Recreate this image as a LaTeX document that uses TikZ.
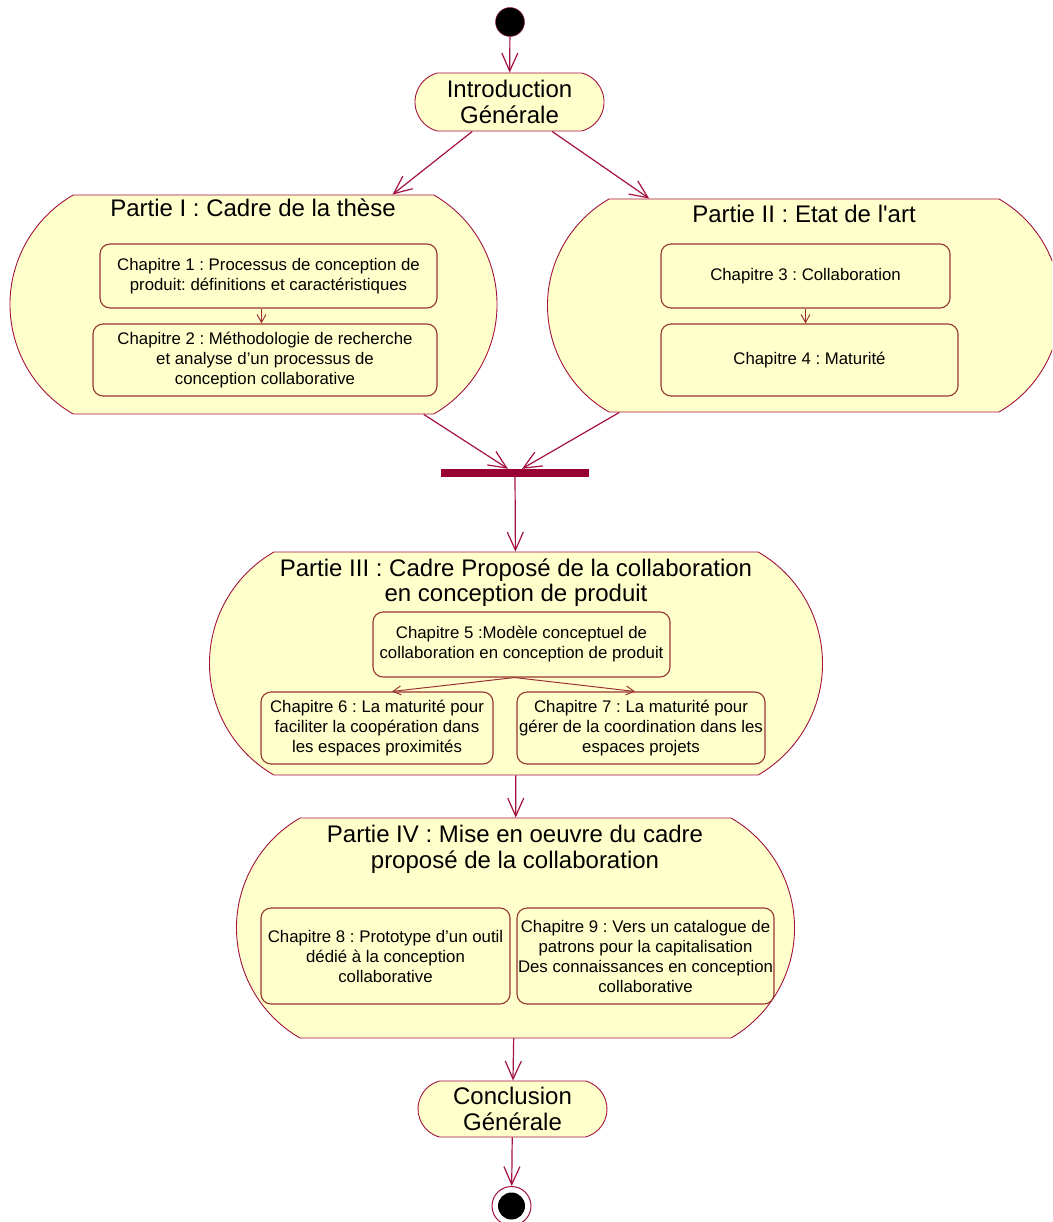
\documentclass[tikz,border=0pt]{standalone}
\usepackage{fontspec}
\setmainfont{Liberation Sans}
\newfontfamily\arialfont{Liberation Sans}
\usetikzlibrary{arrows.meta,shapes.misc}
\definecolor{roseyellow}{HTML}{FFFFCC}
\definecolor{roseline}{HTML}{A3123F}
\definecolor{boxline}{HTML}{993333}
\definecolor{barred}{HTML}{990033}
\frenchspacing

\begin{document}
\begin{tikzpicture}[x=1pt,y=-1pt,
  part/.style={rounded rectangle, rounded rectangle arc length=120, draw=roseline, fill=roseyellow, line width=0.9pt, inner sep=0pt},
  activity/.style={rounded rectangle, rounded rectangle arc length=150, draw=roseline, fill=roseyellow, line width=0.9pt, inner sep=0pt, align=center, font=\arialfont\fontsize{24}{26}\selectfont},
  chap/.style={rectangle, rounded corners=10pt, draw=boxline, fill=roseyellow, line width=1.1pt, inner sep=0pt, align=center, font=\arialfont\fontsize{16.8}{20}\selectfont},
  title/.style={align=center, inner sep=0pt, font=\arialfont\fontsize{24}{26}\selectfont},
  flow/.style={draw=roseline, line width=1.2pt, -{Straight Barb[length=18pt,width=16pt]}},
  subflow/.style={draw=boxline, line width=1pt, -{Straight Barb[length=8pt,width=9pt]}}]
\useasboundingbox (0,0) rectangle (1052,1222);
\clip (0,0) rectangle (1052,1222);

%\draw[help lines] (0,0) grid[step=100] (1052,1222);

% initial and final states
\node[circle, fill=black, draw=roseline, minimum size=29pt, inner sep=0pt] (start) at(510,22) {};
\node[circle, fill=white, draw=roseline, line width=1pt, minimum size=39pt, inner sep=0pt] (stop) at(511.5,1206) {};
\node[circle, fill=black, minimum size=27pt, inner sep=0pt] (stopdot) at(stop) {};

\node[activity, minimum width=189pt, minimum height=58pt] (intro) at(509.5,102) {Introduction\\Générale};
\node[activity, minimum width=189pt, minimum height=56pt] (concl) at(512.5,1109) {Conclusion\\Générale};

% the four parts
\node[part, minimum width=487pt, minimum height=219pt] (p1) at(253.5,304.5) {};
\node[part, minimum width=513pt, minimum height=213pt] (p2) at(804,305.5) {};
\node[part, minimum width=613pt, minimum height=223pt] (p3) at(516,663.5) {};
\node[part, minimum width=558pt, minimum height=220pt] (p4) at(515.5,928) {};

\node[title, anchor=base] (t1) at(253,217) {Partie I : Cadre de la thèse};
\node[title, anchor=base] (t2) at(804,223) {Partie II : Etat de l'art};
\node[title, font=\arialfont\fontsize{24}{25}\selectfont] (t3) at(516,583) {Partie III : Cadre Proposé de la collaboration\\en conception de produit};
\node[title] (t4) at(515,849) {Partie IV : Mise en oeuvre du cadre\\proposé de la collaboration};

% chapters
\node[chap, minimum width=337pt, minimum height=64pt] (ch1) at(268.5,276) {Chapitre 1 : Processus de conception de\\produit: définitions et caractéristiques};
\node[chap, minimum width=344pt, minimum height=72pt] (ch2) at(265,360) {Chapitre 2 : Méthodologie de recherche\\et analyse d’un processus de\\conception collaborative};

\node[chap, minimum width=289pt, minimum height=64pt] (ch3) at(805.5,276) {Chapitre 3 : Collaboration};
\node[chap, minimum width=297pt, minimum height=72pt] (ch4) at(809.5,360) {Chapitre 4 : Maturité};

\node[chap, minimum width=297pt, minimum height=65pt] (ch5) at(521.5,644.5) {Chapitre 5 :Modèle conceptuel de\\collaboration en conception de produit};
\node[chap, minimum width=232pt, minimum height=72pt] (ch6) at(377,728) {Chapitre 6 : La maturité pour\\faciliter la coopération dans\\les espaces proximités};
\node[chap, minimum width=248pt, minimum height=72pt] (ch7) at(641,728) {Chapitre 7 : La maturité pour\\gérer de la coordination dans les\\espaces projets};

\node[chap, minimum width=249pt, minimum height=96pt] (ch8) at(385.5,956) {Chapitre 8 : Prototype d’un outil\\dédié à la conception\\collaborative};
\node[chap, minimum width=257pt, minimum height=96pt] (ch9) at(645.5,956) {Chapitre 9 : Vers un catalogue de\\patrons pour la capitalisation\\Des connaissances en conception\\collaborative};

% synchronisation bar
\node[fill=barred, minimum width=148pt, minimum height=8pt, inner sep=0pt] (bar) at(515,473) {};

% transitions
\draw[flow] (start) -- (intro);
\draw[flow] (intro) -- (p1);
\draw[flow] (intro) -- (p2);
\draw[flow] (p1) -- ([xshift=-7pt]bar.north);
\draw[flow] (p2) -- ([xshift=7pt]bar.north);
\draw[flow] (bar) -- (p3);
\draw[flow] (p3) -- (p4);
\draw[flow] (p4) -- (concl);
\draw[flow] (concl) -- (stop);

\draw[subflow] ([xshift=-7pt]ch1.south) -- ([xshift=-7pt]ch1.south |- ch2.north);
\draw[subflow] (ch3.south) -- (ch3.south |- ch4.north);
\draw[subflow] ([xshift=-7pt]ch5.south) -- ([xshift=15pt]ch6.north);
\draw[subflow] ([xshift=-7pt]ch5.south) -- ([xshift=-6pt]ch7.north);

\end{tikzpicture}
\end{document}
